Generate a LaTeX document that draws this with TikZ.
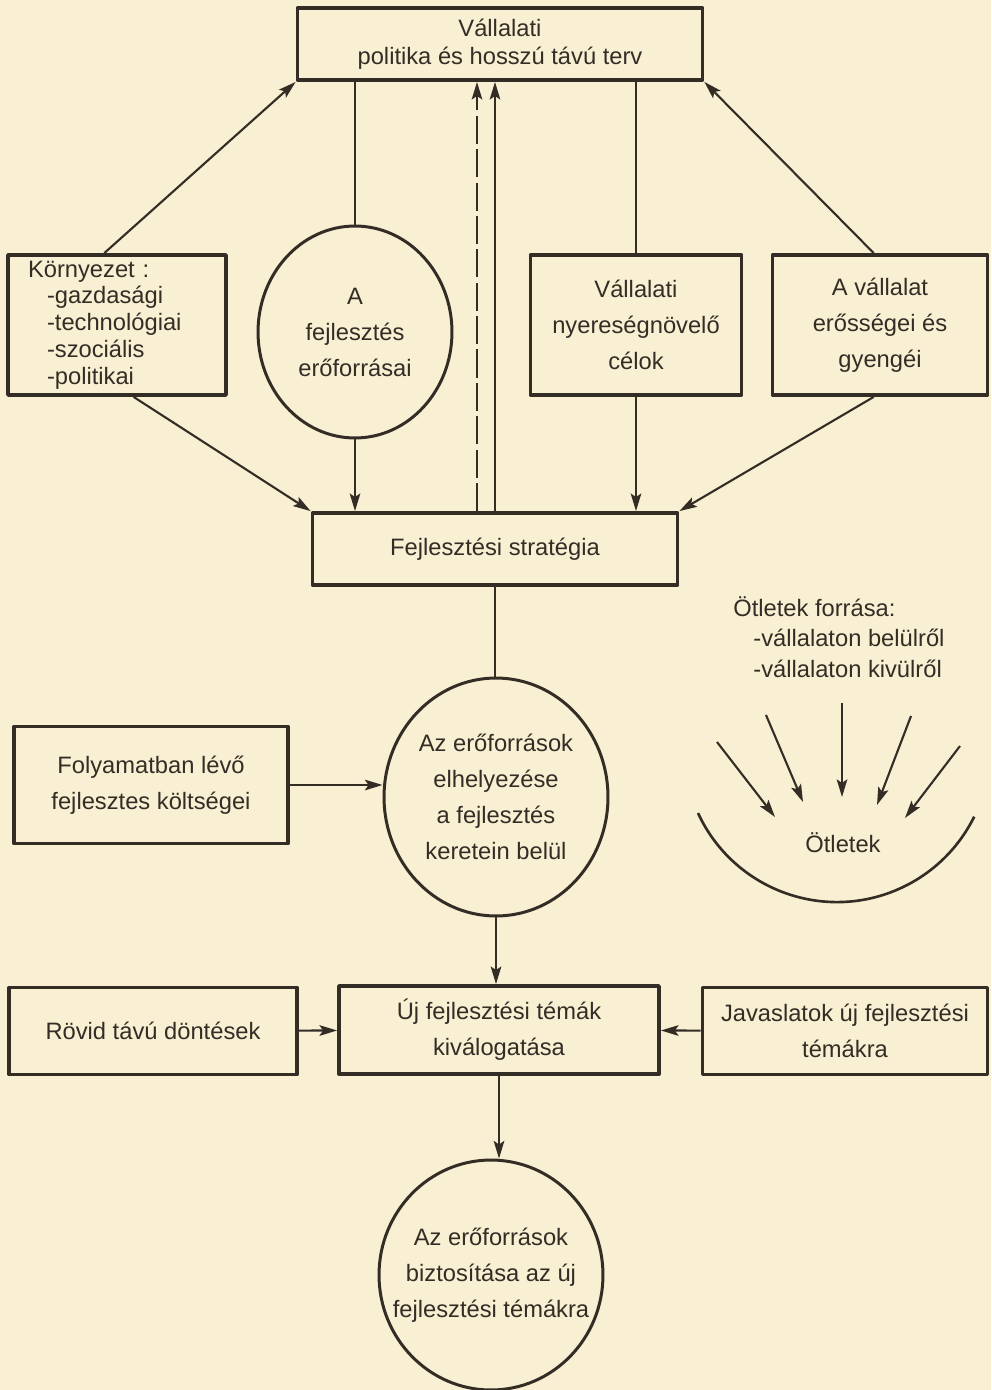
\documentclass[tikz,border=0pt]{standalone}
\usepackage{fontspec}
\setmainfont{Liberation Sans}
\usetikzlibrary{arrows.meta,shapes.geometric}
\definecolor{paper}{RGB}{249,239,210}
\definecolor{ink}{RGB}{52,45,38}

\begin{document}
\begin{tikzpicture}[x=0.02cm,y=-0.02cm,>={Stealth[length=10pt,width=6pt,inset=2pt]},line join=round,
  every node/.style={text=ink,font=\fontsize{13.5}{20.5}\selectfont},
  box/.style={draw=ink,line width=2.2pt,rectangle,inner sep=0pt,align=center},
  blob/.style={draw=ink,line width=1.7pt,ellipse,inner sep=-0.5cm,align=center},
  link/.style={draw=ink,line width=1.2pt}]

%% ---------------- page ----------------
\fill[paper] (0,0) rectangle (991,1390);
\useasboundingbox (0,0) rectangle (991,1390);

%% ---------------- upper part: what the strategy is built from ----------
\node[box,minimum width=8.1cm,minimum height=1.44cm,font=\fontsize{13.5}{16}\selectfont]
     (policy) at (500,44) {Vállalati\\politika és hosszú távú terv};
\node[box,minimum width=4.36cm,minimum height=2.8cm,text width=3.56cm,inner xsep=0.4cm,
      align=left,font=\fontsize{13.5}{15.2}\selectfont] (env) at (117,325)
     {Környezet :\\\hspace*{0.38cm}-gazdasági\\\hspace*{0.38cm}-technológiai\\
      \hspace*{0.38cm}-szociális\\\hspace*{0.38cm}-politikai};
\node[blob,minimum width=3.88cm,minimum height=4.24cm] (res) at (355,332)
     {A\\fejlesztés\\erőforrásai};
\node[box,minimum width=4.22cm,minimum height=2.8cm] (goals) at (636,325)
     {Vállalati\\nyereségnövelő\\célok};
\node[box,minimum width=4.3cm,minimum height=2.8cm] (swot) at (880,325)
     {A vállalat\\erősségei és\\gyengéi};
\node[box,minimum width=7.3cm,minimum height=1.44cm] (strat) at (495,549)
     {Fejlesztési stratégia};

%% links up to the policy box
\draw[link,->] (env.100) -- (policy.south west);
\draw[link,->] (swot.95) -- (policy.south east);
\draw[link] (res.north) -- (res.north |- policy.south);
\draw[link] (policy.south -| goals.north) -- (goals.north);
\coordinate (dsh) at ([xshift=-0.36cm]strat.north);
\draw[link,->,dash pattern=on 16pt off 3pt] (dsh) -- (dsh |- policy.south);
\draw[link,->] (strat.north) -- (strat.north |- policy.south);
%% links down to the strategy
\draw[link,->] (env.283) -- (strat.north west);
\draw[link,->] (res.south) -- (res.south |- strat.north);
\draw[link,->] (goals.south) -- (goals.south |- strat.north);
\draw[link,->] (swot.265) -- (strat.north east);

%% ---------------- middle part: allocation and ideas ----------------
\node[blob,minimum width=4.48cm,minimum height=4.76cm] (alloc) at (496,797)
     {Az erőforrások\\elhelyezése\\a fejlesztés\\keretein belül};
\node[box,minimum width=5.48cm,minimum height=2.34cm] (cost) at (151,785)
     {Folyamatban lévő\\fejlesztes költségei};
\draw[link] (strat.south) -- (strat.south |- alloc.north);
\draw[link,->] (cost) -- (cost -| alloc.west);

\node[align=left,anchor=west,inner sep=0pt,font=\fontsize{13.5}{17.3}\selectfont] (src) at (733,637)
     {Ötletek forrása:\\\hspace*{0.4cm}-vállalaton belülről\\\hspace*{0.4cm}-vállalaton kivülről};
\node[inner sep=0pt] (ideas) at (843,843) {Ötletek};
\draw[link,line width=1.5pt] (698,813) arc[start angle=204.7,end angle=333.8,radius=3.06cm];
\foreach \ax/\ay/\bx/\by in {717/742/775/817,766/715/803/802,842/703/842/797,
                             911/716/877/805,960/746/905/818}
  \draw[link,->] (\ax,\ay) -- (\bx,\by);

%% ---------------- lower part: choosing the new topics ----------------
\node[box,minimum width=6.4cm,minimum height=1.76cm] (select) at (499,1030)
     {Új fejlesztési témák\\kiválogatása};
\node[box,minimum width=5.76cm,minimum height=1.74cm] (short) at (153,1031)
     {Rövid távú döntések};
\node[box,minimum width=5.7cm,minimum height=1.74cm] (prop) at (845,1031)
     {Javaslatok új fejlesztési\\témákra};
\node[blob,minimum width=4.48cm,minimum height=4.6cm] (secure) at (491,1275)
     {Az erőforrások\\biztosítása az új\\fejlesztési témákra};

\draw[link,->] (alloc.south) -- (alloc.south |- select.north);
\draw[link,->] (short) -- (select);
\draw[link,->] (prop) -- (select);
\draw[link,->] (select.south) -- (select.south |- secure.north);

\end{tikzpicture}
\end{document}
